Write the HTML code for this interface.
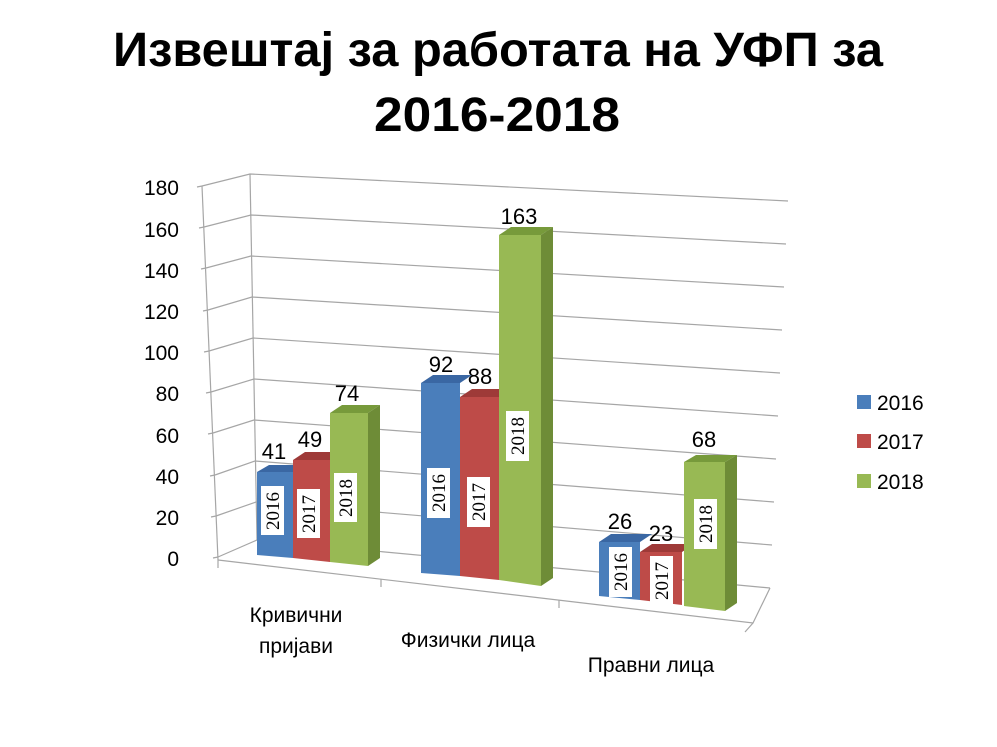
<!DOCTYPE html>
<html><head><meta charset="utf-8"><style>
html,body{margin:0;padding:0;background:#fff;}
svg{display:block;font-family:"Liberation Sans","DejaVu Sans",sans-serif;}
</style></head><body>
<svg width="997" height="747" viewBox="0 0 997 747" xmlns="http://www.w3.org/2000/svg">
<rect width="997" height="747" fill="#fff"/>
<text x="498" y="66" font-size="48" font-weight="bold" text-anchor="middle" textLength="770" lengthAdjust="spacingAndGlyphs">Извештај за работата на УФП за</text>
<text x="497" y="131" font-size="48" font-weight="bold" text-anchor="middle" textLength="246" lengthAdjust="spacingAndGlyphs">2016-2018</text>

<g stroke="#a6a6a6" stroke-width="1.2" fill="none">
<path d="M202,186 L250,174 L788,201"/>
<path d="M204,227 L251,215 L786,244"/>
<path d="M206,268 L251,256 L784,287"/>
<path d="M208,310 L252,297 L782,330"/>
<path d="M209,351 L253,338 L780,373"/>
<path d="M211,392 L254,379 L778,416"/>
<path d="M213,433 L254,420 L776,459"/>
<path d="M215,475 L255,461 L774,502"/>
<path d="M216,516 L256,502 L772,545"/>
<path d="M218,557 L257,540 L770,588"/>
<path d="M202,186 L218,560"/>
<path d="M250,174 L257,540"/>
<path d="M218,560 L753,623 L770,588"/>
<path d="M197,187 L202,186 M199,228 L204,227 M201,269 L206,268 M203,311 L208,310 M204,352 L209,351 M206,393 L211,392 M208,434 L213,433 M210,476 L215,475 M211,517 L216,516 M213,558 L218,557"/>
<path d="M218,560 L218,568 M381,579 L381,587 M559,600 L559,608 M753,623 L745,632"/>
</g>

<g font-size="21" fill="#000" text-anchor="end">
<text x="179" y="195">180</text><text x="179" y="237">160</text><text x="179" y="278">140</text>
<text x="179" y="319">120</text><text x="179" y="360">100</text><text x="179" y="401">80</text>
<text x="179" y="443">60</text><text x="179" y="484">40</text><text x="179" y="525">20</text>
<text x="179" y="566">0</text>
</g>

<g>
<polygon points="257,472 293,472 305,465 269,465" fill="#3a67a3"/>
<polygon points="257,472 293,472 293,558 257,555" fill="#4a7ebb"/>
<polygon points="293,460 330,460 342,452 305,452" fill="#9e3a38"/>
<polygon points="293,460 330,460 330,562 293,558" fill="#be4b48"/>
<polygon points="330,413 368,413 380,405 342,405" fill="#779a3b"/>
<polygon points="368,413 380,405 380,558 368,566" fill="#6e8c37"/>
<polygon points="330,413 368,413 368,566 330,562" fill="#98b954"/>
<polygon points="421,383 460,383 472,375 433,375" fill="#3a67a3"/>
<polygon points="421,383 460,383 460,576 421,573" fill="#4a7ebb"/>
<polygon points="460,397 499,397 511,389 472,389" fill="#9e3a38"/>
<polygon points="460,397 499,397 499,580 460,576" fill="#be4b48"/>
<polygon points="499,235 541,235 553,227 511,227" fill="#779a3b"/>
<polygon points="541,235 553,227 553,578 541,586" fill="#6e8c37"/>
<polygon points="499,235 541,235 541,586 499,580" fill="#98b954"/>
<polygon points="599,542 640,542 652,534 611,534" fill="#3a67a3"/>
<polygon points="599,542 640,542 640,600 599,596" fill="#4a7ebb"/>
<polygon points="640,552 682,552 694,544 652,544" fill="#9e3a38"/>
<polygon points="640,552 682,552 682,605 640,600" fill="#be4b48"/>
<polygon points="684,462 725,462 737,455 696,455" fill="#779a3b"/>
<polygon points="725,462 737,455 737,603 725,611" fill="#6e8c37"/>
<polygon points="684,462 725,462 725,611 684,606" fill="#98b954"/>
</g>

<g font-family="Liberation Serif, serif" font-size="19" fill="#000">
<rect x="261" y="486" width="23" height="49" fill="#fff"/><text transform="translate(279,511) rotate(-90)" text-anchor="middle">2016</text>
<rect x="297" y="489" width="23" height="49" fill="#fff"/><text transform="translate(315,514) rotate(-90)" text-anchor="middle">2017</text>
<rect x="334" y="473" width="23" height="49" fill="#fff"/><text transform="translate(352,498) rotate(-90)" text-anchor="middle">2018</text>
<rect x="427" y="468" width="23" height="50" fill="#fff"/><text transform="translate(445,493) rotate(-90)" text-anchor="middle">2016</text>
<rect x="467" y="477" width="23" height="50" fill="#fff"/><text transform="translate(485,502) rotate(-90)" text-anchor="middle">2017</text>
<rect x="506" y="411" width="23" height="50" fill="#fff"/><text transform="translate(524,436) rotate(-90)" text-anchor="middle">2018</text>
<rect x="609" y="547" width="23" height="50" fill="#fff"/><text transform="translate(627,572) rotate(-90)" text-anchor="middle">2016</text>
<rect x="650" y="556" width="23" height="50" fill="#fff"/><text transform="translate(668,581) rotate(-90)" text-anchor="middle">2017</text>
<rect x="694" y="499" width="23" height="50" fill="#fff"/><text transform="translate(712,524) rotate(-90)" text-anchor="middle">2018</text>
</g>

<g font-size="22" fill="#000" text-anchor="middle">
<text x="274" y="459">41</text><text x="310" y="447">49</text><text x="347" y="401">74</text>
<text x="441" y="372">92</text><text x="480" y="384">88</text><text x="519" y="224">163</text>
<text x="620" y="529">26</text><text x="661" y="541">23</text><text x="704" y="447">68</text>
</g>

<g font-size="21" fill="#000" text-anchor="middle">
<text x="296" y="622">Кривични</text><text x="296" y="653">пријави</text>
<text x="468" y="647">Физички лица</text>
<text x="651" y="672">Правни лица</text>
</g>

<rect x="857" y="395" width="14" height="14" fill="#4a7ebb"/>
<rect x="857" y="434" width="14" height="14" fill="#be4b48"/>
<rect x="857" y="474" width="14" height="14" fill="#98b954"/>
<g font-size="21" fill="#000">
<text x="877" y="410">2016</text><text x="877" y="449">2017</text><text x="877" y="489">2018</text>
</g>
</svg>
</body></html>
